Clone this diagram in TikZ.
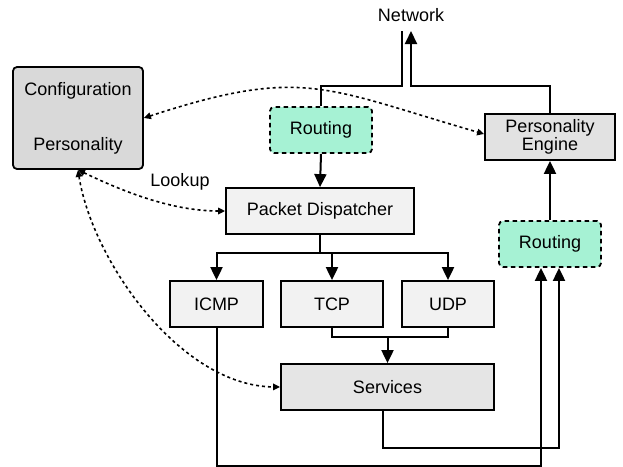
\documentclass[tikz,border=0pt]{standalone}
\usepackage{fontspec}
\setmainfont{Liberation Sans}
\usetikzlibrary{arrows.meta,calc}
\definecolor{cfgfill}{HTML}{D9D9D9}
\definecolor{pefill}{HTML}{E2E2E2}
\definecolor{lightfill}{HTML}{F2F2F2}
\definecolor{srvfill}{HTML}{E5E5E5}
\definecolor{routefill}{HTML}{A6F2D4}
\tikzset{
  box/.style={draw=black, line width=1.8pt, inner sep=0pt, align=center,
    font=\fontsize{18}{18}\selectfont},
  routebox/.style={box, fill=routefill, dashed, dash pattern=on 4.5pt off 3.5pt,
    rounded corners=4pt, minimum width=102pt, minimum height=46pt},
  flow/.style={line width=2pt, -{Triangle[length=13pt,width=12pt]}},
  wire/.style={line width=2pt},
  lookup/.style={line width=1.6pt, dash pattern=on 3pt off 3pt,
    {Triangle[length=7pt,width=6.5pt]}-{Triangle[length=7pt,width=6.5pt]}},
  lbl/.style={font=\fontsize{18}{18}\selectfont, inner sep=0pt}
}
\begin{document}
\begin{tikzpicture}[x=1pt,y=-1pt]
\useasboundingbox (0,0) rectangle (623,466);

% boxes
\node[box, fill=cfgfill, rounded corners=4pt, minimum width=130pt, minimum height=102pt]
  (config) at (78,118) {Configuration\\[37pt]Personality};
\node[routebox] (rout1) at (321,130) {Routing};
\node[box, fill=pefill, minimum width=130pt, minimum height=46pt]
  (pe) at (550,137) {Personality\\Engine};
\node[box, fill=lightfill, minimum width=188pt, minimum height=46pt]
  (disp) at (320,211) {Packet Dispatcher};
\node[routebox] (rout2) at (550,244) {Routing};
\node[box, fill=lightfill, minimum width=93pt, minimum height=46pt]
  (icmp) at (216.5,304) {ICMP};
\node[box, fill=lightfill, minimum width=102pt, minimum height=46pt]
  (tcp) at (332,304) {TCP};
\node[box, fill=lightfill, minimum width=92pt, minimum height=46pt]
  (udp) at (448,304) {UDP};
\node[box, fill=srvfill, minimum width=213pt, minimum height=46pt]
  (serv) at (387.5,387) {Services};
\node[lbl] (net) at (411,15) {Network};
\node[lbl] (lookuplbl) at (180,182) {Lookup};

% network links
\coordinate (netin) at (402,31);
\coordinate (netout) at (411,31);
\draw[wire] (rout1.north) |- (netin |- 0,86) -- (netin);
\draw[flow] (pe.north) |- (netout |- 0,86) -- (netout);

% main packet path
\draw[flow] (rout1.south) -- (disp.north);
\draw[flow] (rout2.north) -- (pe.south);
\draw[wire] (disp.south) -- ++(0,18) coordinate (split);
\draw[flow] (split) -| (icmp.north);
\draw[flow] (split) -| (tcp.north);
\draw[flow] (split) -| (udp.north);
\draw[wire] (tcp.south) -- ++(0,9) coordinate (merge) -| (udp.south);
\draw[flow] (serv.north |- merge) -- (serv.north);

% return paths to routing
\draw[flow] ($(serv.south)+(-4.5,0)$) |- ($(rout2.south)+(9,180)$) -- ($(rout2.south)+(9,0)$);
\draw[flow] (icmp.south) |- ($(rout2.south)+(-9,198)$) -- ($(rout2.south)+(-9,0)$);

% personality lookups
\draw[lookup] (config.east) .. controls (303,66) and (325,88) .. ($(pe.west)+(0,-3)$);
\draw[lookup] (config.south) .. controls (120,190) and (170,211) .. (disp.west);
\draw[lookup] (config.south) .. controls (92,260) and (180,386) .. (serv.west);
\end{tikzpicture}
\end{document}
